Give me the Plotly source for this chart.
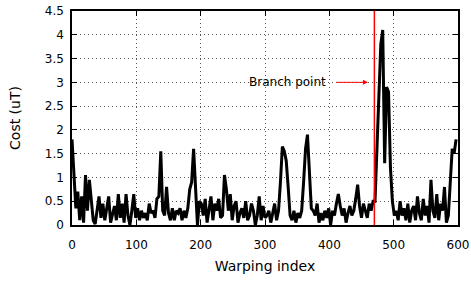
import plotly.graph_objects as go

step = 3
cost = [
    1.8, 1.15, 0.35, 0.7, 0.1, 0.6, 0.05, 1.05, 0.3, 0.95,
    0.45, 0.1, 0.02, 0.3, 0.6, 0.15, 0.45, 0.1, 0.35, 0.6,
    0.05, 0.2, 0.4, 0.1, 0.65, 0.15, 0.45, 0.05, 0.65, 0.2,
    0.0, 0.3, 0.65, 0.15, 0.35, 0.1, 0.3, 0.15, 0.25, 0.1,
    0.45, 0.25, 0.3, 0.15, 0.55, 0.6, 1.55, 0.3, 0.2, 0.8,
    0.25, 0.1, 0.35, 0.1, 0.3, 0.25, 0.35, 0.1, 0.3, 0.15,
    0.35, 0.75, 0.9, 1.6, 0.9, 0.0, 0.5, 0.45, 0.2, 0.55,
    0.05, 0.35, 0.6, 0.1, 0.45, 0.3, 0.55, 0.15, 0.2, 1.05,
    0.75, 0.3, 0.65, 0.1, 0.4, 0.5, 0.05, 0.25, 0.35, 0.15,
    0.5, 0.1, 0.2, 0.45, 0.3, 0.0, 0.2, 0.6, 0.1, 0.4,
    0.15, 0.2, 0.3, 0.05, 0.25, 0.45, 0.1, 0.3, 0.9, 1.65,
    1.55, 1.35, 0.8, 0.2, 0.1, 0.3, 0.05, 0.25, 0.15, 0.3,
    0.9, 1.6, 1.9, 1.2, 0.35, 0.3, 0.2, 0.45, 0.05, 0.25,
    0.1, 0.3, 0.15, 0.35, 0.0, 0.3, 0.2, 0.45, 0.65, 0.4,
    0.2, 0.35, 0.05, 0.25, 0.4, 0.2, 0.3, 0.55, 0.85, 0.4,
    0.15, 0.45, 0.3, 0.15, 0.45, 0.3, 0.5, 0.5, 1.6, 2.6,
    3.8, 4.1, 1.3, 2.9, 2.8, 1.2, 0.5, 0.2, 0.3, 0.1,
    0.5, 0.2, 0.35, 0.1, 0.45, 0.05, 0.3, 0.4, 0.1, 0.6,
    0.25, 0.1, 0.55, 0.2, 0.4, 0.05, 0.95, 0.3, 0.15, 0.65,
    0.1, 0.45, 0.3, 0.8, 0.05, 0.2, 1.0, 1.6, 1.5, 1.8,
]
index = [i * step for i in range(len(cost))]

branch_x = 470
arrow_y = 3.0
arrow_tail = 409
arrow_head = 460
label_text = "Branch point"
x_ticks = [0, 100, 200, 300, 400, 500, 600]
y_ticks = [0, 0.5, 1, 1.5, 2, 2.5, 3, 3.5, 4, 4.5]
y_tick_text = ["0", "0.5", "1", "1.5", "2", "2.5", "3", "3.5", "4", "4.5"]

font = "DejaVu Sans"

fig = go.Figure()
fig.add_trace(go.Scatter(x=index, y=cost, mode="lines",
                         line=dict(color="black", width=3), showlegend=False))
fig.add_trace(go.Scatter(x=[branch_x, branch_x], y=[0, 4.5], mode="lines",
                         line=dict(color="#ff0000", width=1.5), showlegend=False))

fig.add_annotation(x=arrow_head, y=arrow_y, ax=arrow_tail, ay=arrow_y,
                   xref="x", yref="y", axref="x", ayref="y",
                   text="", showarrow=True, arrowhead=2, arrowsize=1,
                   arrowwidth=1, arrowcolor="#ff0000")
fig.add_annotation(x=398, y=arrow_y, xref="x", yref="y", text=label_text,
                   showarrow=False, xanchor="right", yanchor="middle",
                   font=dict(family=font, size=12, color="black"))

axis_common = dict(showline=True, linecolor="black", linewidth=1.5, mirror="allticks",
                   ticks="inside", ticklen=5, tickcolor="black", automargin=False,
                   showgrid=True, gridcolor="#555", griddash="1px,3px", gridwidth=1,
                   zeroline=False, tickfont=dict(family=font, size=12, color="black"))

fig.update_xaxes(range=[0, 600], tickvals=x_ticks, ticklabelstandoff=8,
                 title=dict(text="Warping index", font=dict(family=font, size=14, color="black"), standoff=10),
                 **axis_common)
fig.update_yaxes(range=[0, 4.5], tickvals=y_ticks, ticktext=y_tick_text, ticklabelstandoff=4,
                 title=dict(text="Cost (uT)", font=dict(family=font, size=14, color="black"), standoff=21),
                 **axis_common)

fig.update_layout(width=471, height=283, margin=dict(l=72, r=13, t=11, b=58),
                  plot_bgcolor="white", paper_bgcolor="white",
                  font=dict(family=font, color="black"))

fig.write_html("out.html", config={"displayModeBar": False},
               post_script="document.body.style.margin='0';document.body.style.overflow='hidden';")
